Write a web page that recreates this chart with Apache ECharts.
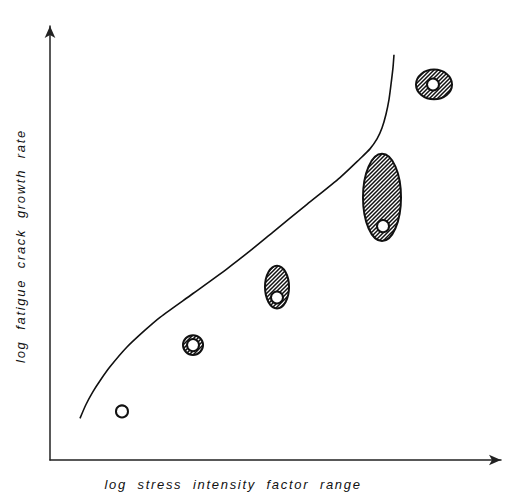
<!DOCTYPE html>
<html>
<head>
<meta charset="utf-8">
<script src="https://cdn.jsdelivr.net/npm/echarts@6/dist/echarts.min.js"></script>
<style>
html, body { margin: 0; padding: 0; background: #fff; }
#chart { width: 507px; height: 496px; }
#chart text { letter-spacing: 1.7px; }
</style>
</head>
<body>
<div id="chart"></div>
<script>
// Axis titles
const xAxisName = 'log  stress  intensity  factor  range';
const yAxisName = 'log  fatigue  crack  growth  rate';

// Trend curve (log ΔK, log da/dN), arbitrary log units
const curveX = [0.665, 0.798, 0.953, 1.109, 1.330, 1.707, 2.106, 2.439, 3.171, 3.925, 4.435, 4.945, 5.698, 6.430, 6.874, 7.095, 7.251, 7.361, 7.450, 7.517, 7.561, 7.605, 7.627];
const curveY = [0.959, 1.279, 1.575, 1.826, 2.146, 2.603, 2.991, 3.288, 3.836, 4.406, 4.817, 5.251, 5.890, 6.507, 6.941, 7.169, 7.397, 7.648, 7.968, 8.311, 8.653, 9.041, 9.338];

// Scatter bands (hatched ellipses): extents in log units
const bandXMin = [2.927, 4.745, 6.918, 8.093];
const bandXMax = [3.415, 5.322, 7.805, 8.936];
const bandYMin = [2.397, 3.470, 5.023, 8.288];
const bandYMax = [2.900, 4.498, 7.078, 9.018];

// Mean data points (open circles)
const pointX = [1.596, 3.171, 5.033, 7.384, 8.492];
const pointY = [1.119, 2.648, 3.744, 5.388, 8.653];

// hatch pattern tile
function makeHatch() {
  const c = document.createElement('canvas');
  const s = 4;
  c.width = s; c.height = s;
  const ctx = c.getContext('2d');
  ctx.fillStyle = '#fff';
  ctx.fillRect(0, 0, s, s);
  ctx.strokeStyle = '#111';
  ctx.lineWidth = 1.5;
  ctx.beginPath();
  ctx.moveTo(0, s); ctx.lineTo(s, 0);
  ctx.moveTo(-1, 1); ctx.lineTo(1, -1);
  ctx.moveTo(s - 1, s + 1); ctx.lineTo(s + 1, s - 1);
  ctx.stroke();
  return { image: c, repeat: 'repeat', imageWidth: s, imageHeight: s };
}
const hatch = makeHatch();

const curveData = curveX.map((x, i) => [x, curveY[i]]);
const bandData = bandXMin.map((x, i) => [x, bandXMax[i], bandYMin[i], bandYMax[i]]);
const pointData = pointX.map((x, i) => [x, pointY[i]]);

const chart = echarts.init(document.getElementById('chart'), null, { renderer: 'svg' });
const axisLine = {
  show: true,
  symbol: ['none', 'arrow'],
  symbolSize: [8, 12],
  lineStyle: { color: '#222', width: 1.5 }
};
const nameStyle = {
  fontFamily: 'Liberation Sans, Arial, sans-serif',
  fontStyle: 'italic',
  fontSize: 13,
  color: '#111'
};
chart.setOption({
  animation: false,
  backgroundColor: '#fff',
  grid: { left: 50, right: 6, top: 26, bottom: 32 },
  xAxis: {
    type: 'value', min: 0, max: 10,
    axisLine: axisLine,
    axisTick: { show: false }, axisLabel: { show: false }, splitLine: { show: false },
    name: xAxisName, nameLocation: 'middle', nameGap: 18,
    nameTextStyle: Object.assign({}, nameStyle, { padding: [0, 85, 0, 0] })
  },
  yAxis: {
    type: 'value', min: 0, max: 10,
    axisLine: axisLine,
    axisTick: { show: false }, axisLabel: { show: false }, splitLine: { show: false },
    name: yAxisName, nameLocation: 'middle', nameGap: 23, nameRotate: 90,
    nameTextStyle: Object.assign({}, nameStyle, { padding: [0, 6, 0, 0] })
  },
  series: [
    {
      type: 'line', data: curveData, smooth: 0.25, showSymbol: false,
      lineStyle: { color: '#111', width: 1.6 }, z: 2
    },
    {
      type: 'custom', data: bandData, z: 3,
      encode: { x: [0, 1], y: [2, 3] },
      renderItem: function (params, api) {
        const p1 = api.coord([api.value(0), api.value(2)]);
        const p2 = api.coord([api.value(1), api.value(3)]);
        return {
          type: 'ellipse',
          shape: {
            cx: (p1[0] + p2[0]) / 2, cy: (p1[1] + p2[1]) / 2,
            rx: Math.abs(p2[0] - p1[0]) / 2 - 1, ry: Math.abs(p2[1] - p1[1]) / 2 - 1
          },
          style: { fill: hatch, stroke: '#111', lineWidth: 2 }
        };
      }
    },
    {
      type: 'scatter', data: pointData, symbol: 'circle', symbolSize: 12, z: 4,
      itemStyle: { color: '#fff', borderColor: '#111', borderWidth: 2, opacity: 1 }
    }
  ]
});
</script>
</body>
</html>
